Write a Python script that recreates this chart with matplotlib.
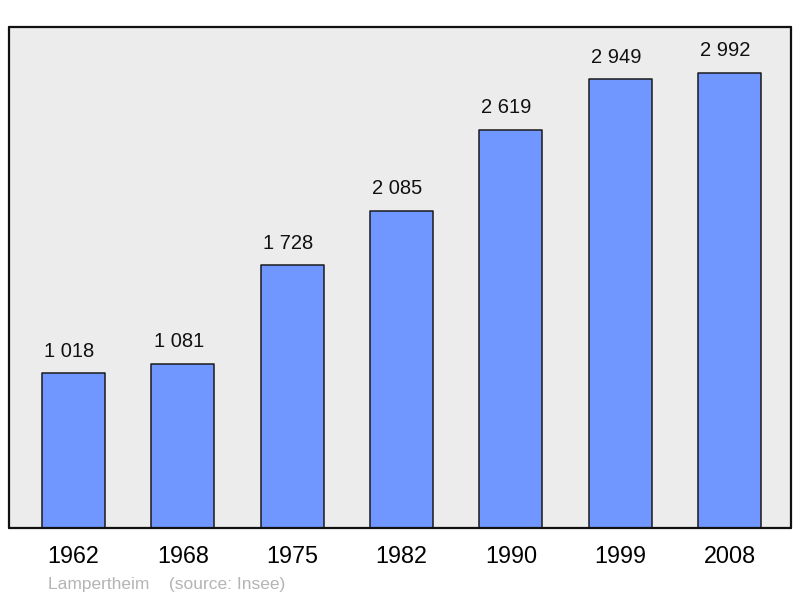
import matplotlib.pyplot as plt

# Population data
years = ["1962", "1968", "1975", "1982", "1990", "1999", "2008"]
population = [1018, 1081, 1728, 2085, 2619, 2949, 2992]
value_labels = ["1 018", "1 081", "1 728", "2 085", "2 619", "2 949", "2 992"]

plt.rcParams['font.family'] = ['Liberation Sans', 'DejaVu Sans']

fig = plt.figure(figsize=(8, 5.98), dpi=100)
ax = fig.add_axes([9 / 800, 70 / 598, 782 / 800, 501 / 598])
ax.set_facecolor('#ececec')

positions = list(range(len(years)))
bars = ax.bar(positions, population, width=0.576, color='#7097ff',
              edgecolor='#1a1a1a', linewidth=1.1, joinstyle='round', zorder=2)

for pos, val, lab in zip(positions, population, value_labels):
    ax.annotate(lab, (pos, val), xytext=(-3, 9), textcoords='offset points',
                ha='center', va='bottom', fontsize=14.5, color='#111111')

ax.set_xlim(-0.59, 6.5625)
ax.set_ylim(0, 3294)
ax.set_yticks([])
ax.set_xticks(positions)
ax.set_xticklabels(years, fontsize=16.8)
ax.tick_params(axis='x', length=0, pad=12)

for spine in ax.spines.values():
    spine.set_linewidth(1.6)
    spine.set_color('#111111')
    spine.set_capstyle('round')

fig.text(48 / 800, 1 - 584 / 598, "Lampertheim    (source: Insee)",
         fontsize=12.5, color='#b4b4b4', ha='left', va='center')

fig.savefig("out.png", dpi=100)
